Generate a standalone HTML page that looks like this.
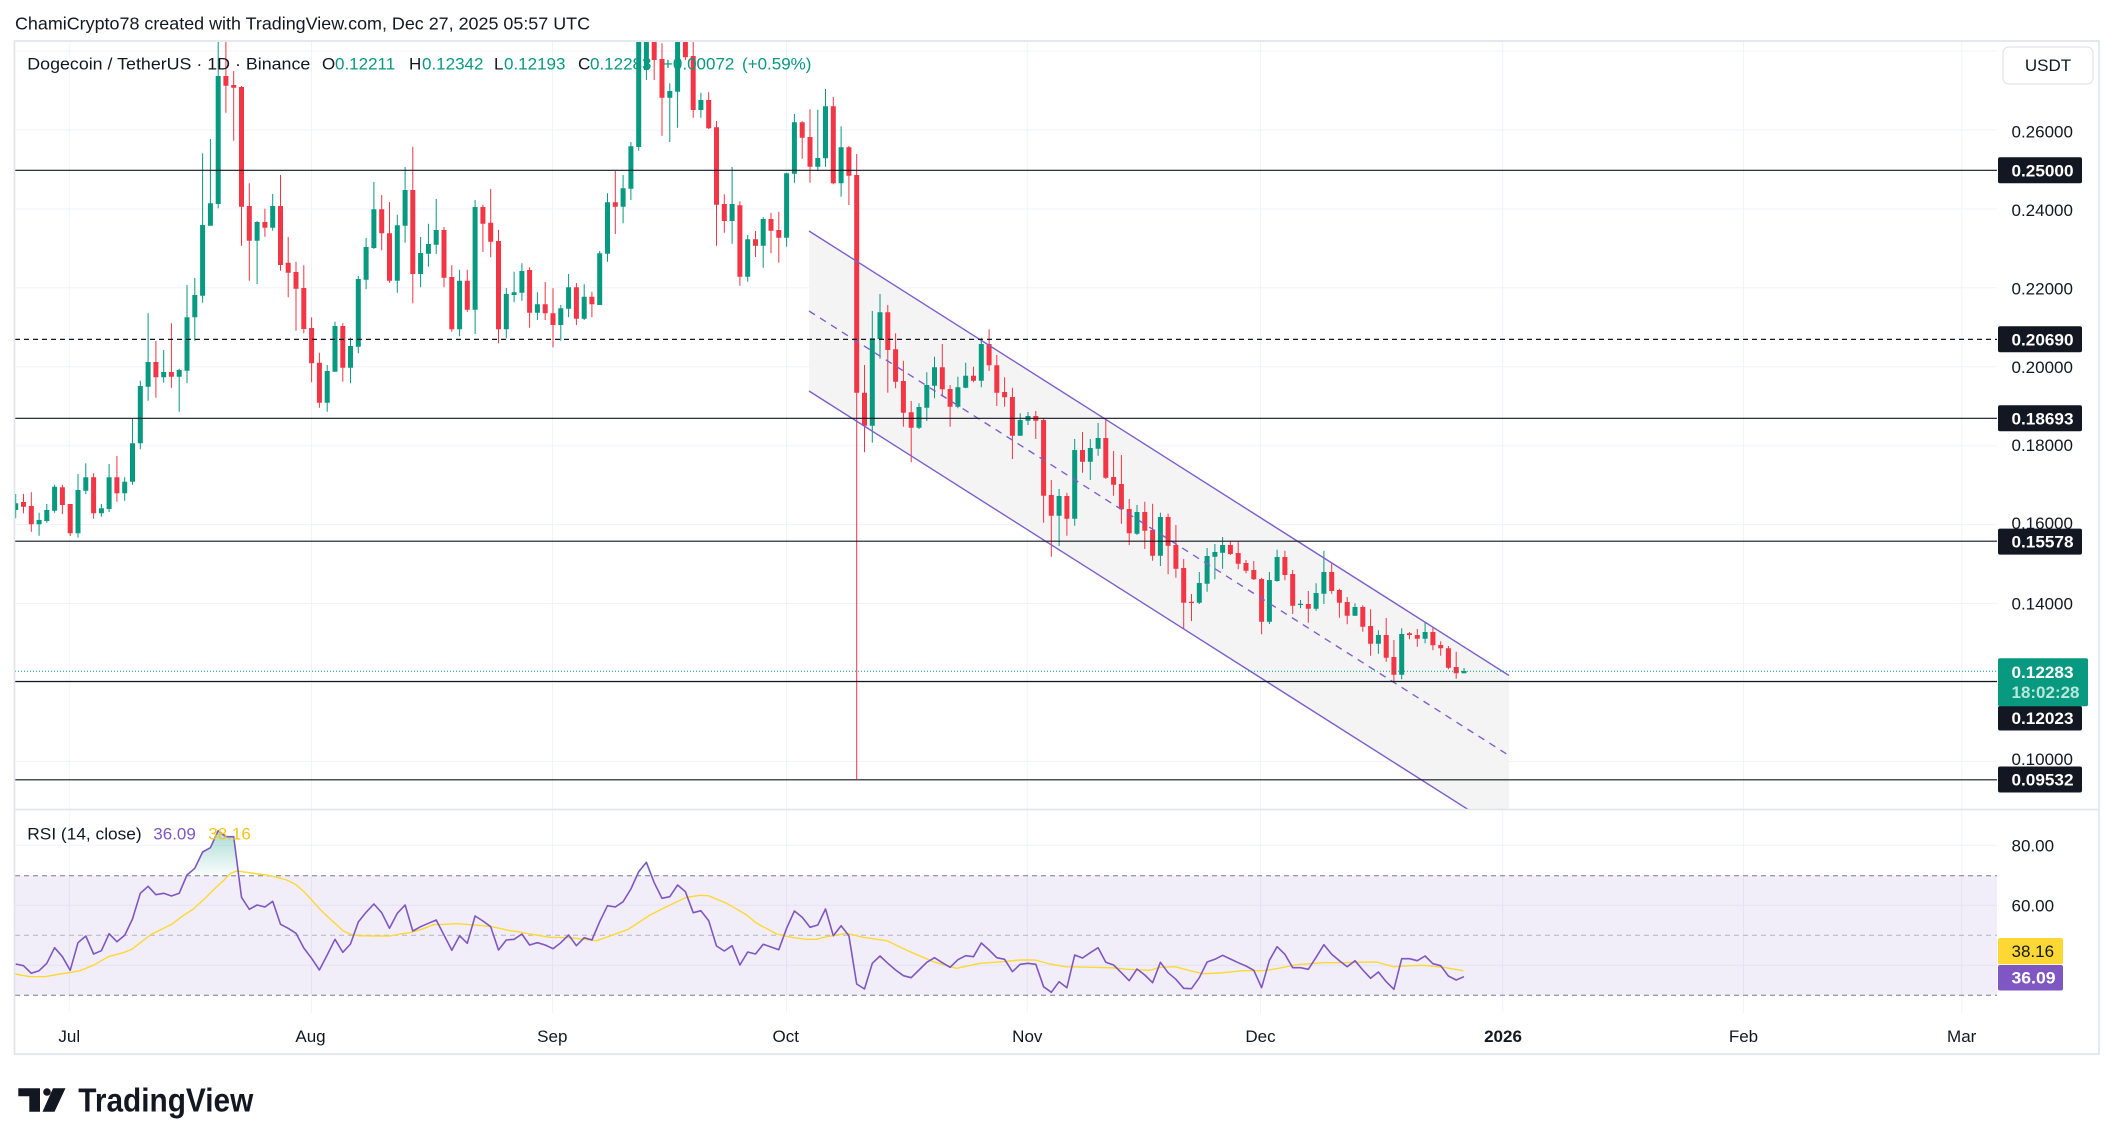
<!DOCTYPE html>
<html><head><meta charset="utf-8"><style>
html,body{margin:0;padding:0;background:#fff;}
svg{display:block;font-family:"Liberation Sans",Arial,sans-serif;}
</style></head><body>
<svg width="2114" height="1145" viewBox="0 0 2114 1145" xmlns="http://www.w3.org/2000/svg">
<defs>
<clipPath id="pp"><rect x="15" y="42" width="1982" height="767"/></clipPath>
<clipPath id="rp"><rect x="15" y="810" width="1982" height="203"/></clipPath>
<linearGradient id="ob" x1="0" y1="830" x2="0" y2="876" gradientUnits="userSpaceOnUse">
<stop offset="0" stop-color="#089981" stop-opacity="0.35"/><stop offset="1" stop-color="#089981" stop-opacity="0.02"/></linearGradient>
</defs>
<rect width="2114" height="1145" fill="#fff"/>
<text x="15" y="29.4" font-size="17.5" fill="#131722" textLength="575" lengthAdjust="spacingAndGlyphs">ChamiCrypto78 created with TradingView.com, Dec 27, 2025 05:57 UTC</text>

<!-- grid -->
<g stroke="#f0f3fa" stroke-width="1">
<path d="M15 51.1H1997M15 130H1997M15 209H1997M15 287.8H1997M15 366.8H1997M15 445.7H1997M15 524.6H1997M15 603.5H1997M15 682.4H1997M15 761.4H1997"/>
<path d="M15 845.3H1997M15 905.3H1997M15 965.3H1997"/>
<path d="M69.3 42V1013M311.5 42V1013M552.5 42V1013M786.5 42V1013M1027.3 42V1013M1260.5 42V1013M1502.7 42V1013M1743.5 42V1013M1961.7 42V1013"/>
</g>

<!-- price pane -->
<g clip-path="url(#pp)">
<polygon points="809,231 1509,675.5 1509,835.5 809,391" fill="#f4f4f4"/>
<path fill="none" stroke="#089981" stroke-width="1" d="M15.7 494V518.3M39.1 512.7V535.7M46.8 504V522.7M54.6 484.7V512.7M78 474V537.7M85.8 463.3V494M101.4 504V516.7M109.1 464V512M124.7 477.3V500.7M132.5 418.7V484.7M140.3 380.7V449.3M148.1 313.3V400.7M163.7 350V382.7M179.2 368.7V411.7M187 285V383.3M194.8 278V340.7M202.6 153.3V302.7M210.4 139V225.7M218.2 42V208.3M257.1 221V284M272.7 194V230.7M327.2 365V411.7M335 321.7V371.7M350.5 337.7V383.3M358.3 276V353.3M366.1 238V289.3M373.9 182V249M397.3 214.7V292.7M405.1 167V242.7M420.6 237V287.3M428.4 223.7V266.7M436.2 199V254M459.6 269.7V336.3M475.1 200V334M506.3 288V338.3M514.1 271.7V302.3M521.9 263.3V300.7M537.4 292.3V320M560.8 305V340.7M568.6 274V317.3M584.2 284.3V320M599.7 251V305M607.5 193.3V261.7M623.1 175V223.3M630.9 142V200M638.7 42V150.7M646.4 42V80M669.8 83.3V142M677.6 42V127.7M700.9 92.7V117.7M732.1 167V243.7M747.7 235V281.7M763.2 217.3V267.7M786.6 172.7V246.7M794.4 114V182.7M817.8 109.7V171M825.5 89V166.7M841.1 126.3V196.7M872.3 311V442.7M880 294V358.7M919 403.3V429M926.8 372.3V421M934.5 356.7V398.3M957.9 376.7V408.3M965.7 362.7V388.3M981.3 337.7V387.3M1020.2 413.3V435.7M1028 412V425M1059.1 489V546M1074.7 439V525.7M1090.3 439V480M1098.1 423V455.7M1137 505V535M1160.4 512.7V566M1199.3 572V604M1207.1 548V591.7M1214.9 544V579.3M1222.6 537V568.7M1269.4 572V624M1277.1 549.7V581.7M1300.5 600V608.3M1316.1 583.3V610.7M1323.9 550.7V604M1355 603.3V616M1378.4 630.3V653.7M1401.7 628.3V679.3M1425.1 621.7V643.3M1464 668V673.3"/>
<path fill="#089981" d="M13.2 503.3h5V510h-5zM36.6 520h5V524.3h-5zM44.3 510h5V521h-5zM52.1 486.7h5V510.7h-5zM75.5 490h5V533.3h-5zM83.3 477.3h5V490.7h-5zM98.9 508.3h5V513.3h-5zM106.6 477.3h5V509h-5zM122.2 481.7h5V493.3h-5zM130 443.3h5V481.7h-5zM137.8 386h5V443.3h-5zM145.6 362h5V386.7h-5zM161.2 372h5V377.3h-5zM176.7 370h5V376.7h-5zM184.5 317.3h5V370.7h-5zM192.3 295h5V317.3h-5zM200.1 225h5V295.7h-5zM207.9 203.3h5V225.7h-5zM215.7 76h5V204h-5zM254.6 222h5V240.7h-5zM270.2 206h5V227.7h-5zM324.7 371h5V402.7h-5zM332.5 326h5V371.7h-5zM348 346h5V367.7h-5zM355.8 279h5V346.7h-5zM363.6 247h5V279.7h-5zM371.4 209.3h5V248h-5zM394.8 225.3h5V280.7h-5zM402.6 190h5V225.7h-5zM418.1 253h5V274h-5zM425.9 244h5V253.7h-5zM433.7 230h5V244.7h-5zM457.1 280.7h5V329.3h-5zM472.6 207h5V309.7h-5zM503.8 294h5V329.3h-5zM511.6 292.3h5V295h-5zM519.4 271h5V292.7h-5zM534.9 304.3h5V312.7h-5zM558.3 308.3h5V325h-5zM566.1 287.3h5V308.7h-5zM581.7 296.7h5V318.7h-5zM597.2 253.3h5V305h-5zM605 202.3h5V253.7h-5zM620.6 188.3h5V206.7h-5zM628.4 146.3h5V188.7h-5zM636.2 42h5V147h-5zM643.9 42h5V70h-5zM667.3 91h5V97.7h-5zM675.1 42h5V91.7h-5zM698.4 100h5V110h-5zM729.6 204h5V221h-5zM745.2 239.3h5V276.7h-5zM760.7 219h5V245.7h-5zM784.1 173.3h5V237.7h-5zM791.9 122.3h5V173.7h-5zM815.3 158h5V166.7h-5zM823 106.3h5V158.3h-5zM838.6 147.3h5V183.3h-5zM869.8 338.3h5V425.7h-5zM877.5 312.3h5V339h-5zM916.5 407h5V427.7h-5zM924.3 385h5V407.7h-5zM932 367.3h5V385.7h-5zM955.4 387.3h5V406.7h-5zM963.2 375.7h5V387.7h-5zM978.8 344h5V380.7h-5zM1017.7 420h5V435.7h-5zM1025.5 416h5V420.7h-5zM1056.6 496h5V515.7h-5zM1072.2 450h5V518.7h-5zM1087.8 448h5V461.7h-5zM1095.6 438h5V448.7h-5zM1134.5 512h5V533.7h-5zM1157.9 517h5V555.7h-5zM1196.8 583h5V602.7h-5zM1204.6 556h5V583.7h-5zM1212.4 552h5V556.7h-5zM1220.1 545h5V552.7h-5zM1266.9 580h5V621.7h-5zM1274.6 557h5V581h-5zM1298 603.7h5V605h-5zM1313.6 593h5V608.7h-5zM1321.4 572h5V593.7h-5zM1352.5 607h5V615.7h-5zM1375.9 635h5V643.7h-5zM1399.2 634h5V674.7h-5zM1422.6 632h5V638.7h-5zM1461.5 671h5V673.3h-5z"/>
<path fill="none" stroke="#f23645" stroke-width="1" d="M23.5 494V513.3M31.3 492.3V531.7M62.4 484.7V514M70.2 504V536M93.6 473.3V518.7M116.9 456V501.7M155.9 341V397.7M171.4 323.3V387.7M225.9 41.7V112.7M233.7 71V140.7M241.5 86V245.7M249.3 183.3V280.7M264.9 208.7V236.7M280.5 175V270.7M288.2 237V297.3M296 261.7V330.7M303.8 265.3V333.3M311.6 317.3V382.3M319.4 352.7V407.7M342.8 323.3V381.7M381.7 195V250.3M389.5 202V282.7M412.8 146.7V303.3M444 227V287.3M451.8 265.3V331.7M467.3 269.7V311.7M482.9 204.7V252M490.7 189V257.3M498.5 230V343.3M529.6 267.3V327.7M545.2 282V320M553 288.3V347.3M576.4 283V325M591.9 291.7V317.3M615.3 171V234M654.2 42V80M662 43.3V135.7M685.4 42V60M693.2 41.7V117.7M708.7 92.3V129M716.5 121V245.7M724.3 194.3V232.7M739.9 201.3V285.7M755.5 231V257M771 213V253.3M778.8 211.7V262.7M802.2 121.3V158.7M810 109.3V182.7M833.3 97V184.3M848.9 146V205M856.7 154V779M864.5 365V452.3M887.8 305V392.7M895.6 333.3V388.3M903.4 360.7V426.7M911.2 401V462.3M942.3 344V396.7M950.1 385V426.7M973.5 366.7V382.3M989.1 329.3V371M996.8 355V406M1004.6 377.3V406.7M1012.4 387.7V459M1035.8 411V439M1043.6 418.3V522.7M1051.3 480V556.7M1066.9 492.7V535.7M1082.5 432V472.7M1105.8 419V479M1113.6 451V495.7M1121.4 455V523.7M1129.2 499V545M1144.8 501.7V549M1152.6 503.7V560.7M1168.1 513.7V574.3M1175.9 525V577.7M1183.7 559V629.3M1191.5 594V621M1230.4 541.7V555M1238.2 541.7V569.3M1246 560V573.3M1253.8 561V580M1261.6 577.7V634.3M1284.9 550.7V580.3M1292.7 570V614M1308.3 591V622.7M1331.7 563V593.7M1339.4 588.7V617.7M1347.2 597V624.3M1362.8 605.3V631.7M1370.6 609.3V655.7M1386.2 618V661.7M1393.9 640V681.7M1409.5 632V639.3M1417.3 629V646.7M1432.9 627.7V650.3M1440.7 641.3V655.7M1448.4 646V669.3M1456.2 651.7V678.7"/>
<path fill="#f23645" d="M21 502h5V506.7h-5zM28.8 506h5V524.3h-5zM59.9 487.3h5V505h-5zM67.7 504h5V533.3h-5zM91.1 477.3h5V513.3h-5zM114.4 477.3h5V493.3h-5zM153.4 362h5V377.3h-5zM168.9 372h5V376.7h-5zM223.4 76h5V85.7h-5zM231.2 85h5V87.7h-5zM239 87h5V206.7h-5zM246.8 206h5V240.7h-5zM262.4 222h5V227.7h-5zM278 206h5V265h-5zM285.7 262.7h5V272.7h-5zM293.5 272h5V288.7h-5zM301.3 288h5V329h-5zM309.1 328h5V363.3h-5zM316.9 362.7h5V402.7h-5zM340.3 326h5V367.7h-5zM379.2 209.3h5V233.3h-5zM387 233.3h5V280.7h-5zM410.3 190h5V274h-5zM441.5 230h5V277.7h-5zM449.3 277h5V329.3h-5zM464.8 280.7h5V309.7h-5zM480.4 207h5V223.7h-5zM488.2 222.7h5V241.7h-5zM496 241h5V329.3h-5zM527.1 270h5V312.7h-5zM542.7 304.3h5V313.3h-5zM550.5 313.3h5V325h-5zM573.9 287.3h5V318.7h-5zM589.4 296.7h5V304.3h-5zM612.8 202.3h5V206.7h-5zM651.7 42h5V60h-5zM659.5 59h5V97.7h-5zM682.9 42h5V57.3h-5zM690.7 56h5V110h-5zM706.2 100h5V128.3h-5zM714 127.3h5V204.7h-5zM721.8 204h5V221h-5zM737.4 205.3h5V276.7h-5zM753 239.3h5V245.7h-5zM768.5 219h5V230.7h-5zM776.3 230h5V237.7h-5zM799.7 122.3h5V137.7h-5zM807.5 137h5V166.7h-5zM830.8 106.3h5V183.3h-5zM846.4 147.3h5V175.7h-5zM854.2 175h5V392.7h-5zM862 392.7h5V425.7h-5zM885.3 312.3h5V350h-5zM893.1 349.3h5V381.7h-5zM900.9 381h5V412.7h-5zM908.7 412.3h5V427.7h-5zM939.8 367.3h5V389.3h-5zM947.6 389h5V406.7h-5zM971 375.7h5V380.7h-5zM986.6 344h5V365.3h-5zM994.3 365.3h5V392.7h-5zM1002.1 392h5V397.3h-5zM1009.9 397h5V435.7h-5zM1033.3 416h5V420.7h-5zM1041.1 420h5V495.7h-5zM1048.8 495h5V515.7h-5zM1064.4 496h5V518.7h-5zM1080 450h5V461.7h-5zM1103.3 438h5V477.7h-5zM1111.1 477h5V484.7h-5zM1118.9 484h5V509.3h-5zM1126.7 509h5V533.3h-5zM1142.3 512h5V530.7h-5zM1150.1 530h5V555.7h-5zM1165.6 517h5V545.7h-5zM1173.4 545h5V568.7h-5zM1181.2 568h5V602.7h-5zM1189 601.7h5V603h-5zM1227.9 545h5V554h-5zM1235.7 553h5V563.7h-5zM1243.5 563h5V570.7h-5zM1251.3 570h5V579.3h-5zM1259.1 579h5V621.7h-5zM1282.4 557h5V575h-5zM1290.2 574h5V605.7h-5zM1305.8 604h5V608.7h-5zM1329.2 572h5V591h-5zM1336.9 590h5V602.7h-5zM1344.7 602h5V615.7h-5zM1360.3 607h5V626.7h-5zM1368.1 626h5V643.7h-5zM1383.7 635h5V657.7h-5zM1391.4 657h5V674.7h-5zM1407 633.3h5V635h-5zM1414.8 635h5V638.7h-5zM1430.4 632h5V645.3h-5zM1438.2 645h5V648.3h-5zM1445.9 648.3h5V667.7h-5zM1453.7 667h5V673.3h-5z"/>
<g stroke="#7b5fd0" stroke-width="1.4" fill="none">
<path d="M809 231L1509 675.5M809 391L1509 835.5"/>
<path d="M809 311L1509 755.5" stroke-dasharray="7 6"/>
</g>
<g stroke="#131722" stroke-width="1.2" fill="none">
<path d="M15 170.3H1997M15 418.3H1997M15 541.2H1997M15 681.5H1997M15 779.8H1997"/>
<path d="M15 339.4H1997" stroke-dasharray="5 4"/>
</g>
<path d="M15 671.3H1997" stroke="#089981" stroke-width="1" stroke-dasharray="1 2" fill="none"/>
</g>

<!-- legend -->
<g font-size="17" fill="#131722">
<text x="27.3" y="69.5" textLength="283" lengthAdjust="spacingAndGlyphs">Dogecoin / TetherUS · 1D · Binance</text>
<text x="322" y="69.5">O</text><text x="335" y="69.5" fill="#089981">0.12211</text>
<text x="409" y="69.5">H</text><text x="422" y="69.5" fill="#089981">0.12342</text>
<text x="494" y="69.5">L</text><text x="504" y="69.5" fill="#089981">0.12193</text>
<text x="578" y="69.5">C</text><text x="590" y="69.5" fill="#089981">0.12283</text>
<text x="663" y="69.5" fill="#089981">+0.00072</text>
<text x="742" y="69.5" fill="#089981">(+0.59%)</text>
</g>

<!-- RSI pane -->
<rect x="15" y="875.7" width="1982" height="119.6" fill="rgba(126,87,194,0.1)"/>
<g fill="none" stroke-width="1">
<path d="M15 875.7H1997M15 995.3H1997" stroke="#787b86" stroke-dasharray="5 4"/>
<path d="M15 935.3H1997" stroke="#b2b5be" stroke-dasharray="5 4"/>
</g>
<g clip-path="url(#rp)">
<polygon points="187,875.7 194.8,868.3 202.6,852 210.4,847.7 218.2,830.7 225.9,836.7 233.7,836.7 238.7,875.7" fill="url(#ob)"/>
<polygon points="636.9,875.7 638.7,871.7 646.4,862.3 651.5,875.7" fill="url(#ob)"/>
<polyline fill="none" stroke="#fdd835" stroke-width="1.4" stroke-linejoin="round" points="15,974 30,976.7 45,976.7 60,974 69.3,972.7 80,970.7 93.3,965.3 108.3,956.7 123.3,952.7 131.7,949.3 141.7,941.7 151.7,934 161.7,929.3 171.7,924.3 181.7,916.7 193.3,909 203.3,900 213.3,890 223.3,880.7 230.7,873.3 236.7,871 246.7,872.3 258.3,874 268.3,875.3 278.3,877.7 286.7,880 295,884 303.3,891 311.7,900 320,909.3 328.3,917.3 335,923.3 343.3,931 350,934 358.3,935.7 376.7,936 390,936 400,934 410,932.7 421.7,929.3 433.3,924.7 443.3,924.3 456.7,923.7 470,924.7 483.3,925.7 496.7,927.7 510,930.7 520,932 530,934 550,937.3 570,937.7 596.7,940.7 610,936 628.3,929.3 650,915 670,905 686.7,897.3 700,895.3 708.3,895.7 726.7,903.3 746.7,915 756.7,923.3 776.7,934 793.3,937.7 806.7,939.3 816.7,939.3 826.7,936.7 846.7,933.3 863.3,937.3 886.7,940.7 910,951.7 933.3,961.7 956.7,968.3 980,963.3 1003.3,961.7 1019.3,960 1035,960 1050,964 1065,966.7 1093.3,967.3 1116.7,968 1126.7,969.3 1150,970.3 1160,967.3 1175,966.7 1190,970.7 1203.3,973.7 1220,973 1243.3,970.7 1263.3,970.7 1276.7,968.7 1296.7,964.7 1323.3,962.7 1343.3,962.7 1356.7,962.3 1376.7,962 1393.3,966.7 1410,965.7 1423.3,965.3 1443.3,967.3 1463.3,970.7"/>
<polyline fill="none" stroke="#7e57c2" stroke-width="1.6" stroke-linejoin="round" points="15.7,964 23.5,965.7 31.3,973.3 39.1,970.7 46.8,963.3 54.6,947.7 62.4,956.7 70.2,970.3 78,942.7 85.8,936 93.6,954 101.4,950.7 109.1,933.7 116.9,941.7 124.7,935.3 132.5,919 140.3,893.3 148.1,886.3 155.9,894.7 163.7,893.3 171.4,896 179.2,893.3 187,875 194.8,868.3 202.6,852 210.4,847.7 218.2,830.7 225.9,836.7 233.7,836.7 241.5,897.3 249.3,909.3 257.1,905 264.9,907 272.7,901.3 280.5,924.3 288.2,928.3 296,933.3 303.8,948 311.6,958.3 319.4,970 327.2,955 335,939.3 342.8,952.3 350.5,944 358.3,922 366.1,912.3 373.9,904 381.7,912.7 389.5,928.3 397.3,913.3 405.1,905 412.8,931 420.6,926.7 428.4,923.3 436.2,920 444,935 451.8,950.3 459.6,935.7 467.3,943.3 475.1,916 482.9,921 490.7,926.7 498.5,950 506.3,940 514.1,939.3 521.9,934 529.6,945 537.4,942.7 545.2,945 553,948.7 560.8,942.7 568.6,935 576.4,945.7 584.2,937.7 591.9,940 599.7,921.7 607.5,905.7 615.3,907 623.1,901.7 630.9,889 638.7,871.7 646.4,862.3 654.2,882.7 662,898.3 669.8,896.7 677.6,885 685.4,891.7 693.2,912.7 700.9,910.7 708.7,920.7 716.5,946 724.3,951 732.1,945.7 739.9,965 747.7,952 755.5,954 763.2,944.3 771,947 778.8,949.7 786.6,928.3 794.4,911 802.2,917.3 810,927.3 817.8,925 825.5,909 833.3,935.7 841.1,925.7 848.9,935.7 856.7,984 864.5,989 872.3,963.3 880,956 887.8,963.3 895.6,970 903.4,975.7 911.2,977.7 919,970 926.8,962.3 934.5,957.7 942.3,962.7 950.1,967.3 957.9,959.7 965.7,955.7 973.5,956.7 981.3,943 989.1,950 996.8,957.7 1004.6,959.3 1012.4,971.7 1020.2,964.3 1028,963.3 1035.8,964.3 1043.6,986.7 1051.3,992.3 1059.1,981.7 1066.9,987.7 1074.7,955 1082.5,958 1090.3,952.7 1098.1,947.7 1105.8,962.3 1113.6,965 1121.4,972.7 1129.2,980.7 1137,969 1144.8,975 1152.6,982.7 1160.4,962.3 1168.1,972.7 1175.9,979.3 1183.7,988.3 1191.5,988.7 1199.3,977.7 1207.1,962 1214.9,959.3 1222.6,955.3 1230.4,959 1238.2,962.7 1246,966 1253.8,970.3 1261.6,987.7 1269.4,960.3 1277.1,946.7 1284.9,954.3 1292.7,967.7 1300.5,967.7 1308.3,969.3 1316.1,957.3 1323.9,944.7 1331.7,954.3 1339.4,960.7 1347.2,966.7 1355,960.7 1362.8,970 1370.6,978.3 1378.4,972 1386.2,981.7 1393.9,989.3 1401.7,958.7 1409.5,958.7 1417.3,960.7 1425.1,956 1432.9,963.7 1440.7,965.7 1448.4,976 1456.2,980 1464,976.7"/>
</g>
<g font-size="17">
<text x="27.3" y="839.4" fill="#131722" textLength="114.4" lengthAdjust="spacingAndGlyphs">RSI (14, close)</text>
<text x="153.3" y="839.4" fill="#7e57c2">36.09</text>
<text x="208.3" y="839.4" fill="#f5c518">38.16</text>
</g>

<!-- pane separator & frame -->
<path d="M15 809.5H2099" stroke="#e0e3eb" stroke-width="1.5"/>
<rect x="14.5" y="41" width="2084.5" height="1013" fill="none" stroke="#e0e3eb" stroke-width="1.6"/>

<!-- price axis -->
<rect x="2003" y="47" width="90" height="37" rx="6" fill="#fff" stroke="#e0e3eb" stroke-width="1.2"/>
<text x="2048" y="71" font-size="17" fill="#131722" text-anchor="middle">USDT</text>
<g font-size="17" fill="#131722">
<text x="2011.5" y="137.7">0.26000</text>
<text x="2011.5" y="216">0.24000</text>
<text x="2011.5" y="294.3">0.22000</text>
<text x="2011.5" y="373">0.20000</text>
<text x="2011.5" y="451">0.18000</text>
<text x="2011.5" y="529">0.16000</text>
<text x="2011.5" y="609.6">0.14000</text>
<text x="2011.5" y="765">0.10000</text>
<text x="2011.5" y="851.7">80.00</text>
<text x="2011.5" y="911.4">60.00</text>
</g>
<g fill="#131722">
<rect x="1998" y="157.3" width="84" height="26" rx="2"/>
<rect x="1998" y="326.3" width="84" height="26" rx="2"/>
<rect x="1998" y="405.3" width="84" height="26" rx="2"/>
<rect x="1998" y="528.6" width="84" height="26" rx="2"/>
<rect x="1998" y="706" width="84" height="24.5" rx="2"/>
<rect x="1998" y="766.5" width="84" height="26" rx="2"/>
</g>
<rect x="1998" y="658.2" width="90" height="48" rx="2" fill="#089981"/>
<rect x="1998" y="938" width="65" height="26.3" rx="2" fill="#fdd835"/>
<rect x="1998" y="965" width="65" height="25.5" rx="2" fill="#7e57c2"/>
<g font-size="17" fill="#fff" font-weight="bold">
<text x="2011.5" y="176.3" textLength="62" lengthAdjust="spacingAndGlyphs">0.25000</text>
<text x="2011.5" y="345.3" textLength="62" lengthAdjust="spacingAndGlyphs">0.20690</text>
<text x="2011.5" y="424.3" textLength="62" lengthAdjust="spacingAndGlyphs">0.18693</text>
<text x="2011.5" y="547.6" textLength="62" lengthAdjust="spacingAndGlyphs">0.15578</text>
<text x="2011.5" y="677.8" textLength="62" lengthAdjust="spacingAndGlyphs">0.12283</text>
<text x="2011.5" y="697.8" fill="#b8e6dc" textLength="68" lengthAdjust="spacingAndGlyphs">18:02:28</text>
<text x="2011.5" y="724.2" textLength="62" lengthAdjust="spacingAndGlyphs">0.12023</text>
<text x="2011.5" y="785.5" textLength="62" lengthAdjust="spacingAndGlyphs">0.09532</text>
<text x="2011.5" y="983.5" textLength="44" lengthAdjust="spacingAndGlyphs">36.09</text>
</g>
<text x="2011.5" y="957" font-size="17" fill="#131722">38.16</text>

<!-- time axis -->
<g font-size="17" fill="#131722" text-anchor="middle">
<text x="69.3" y="1042">Jul</text>
<text x="310.5" y="1042">Aug</text>
<text x="552.3" y="1042">Sep</text>
<text x="785.7" y="1042">Oct</text>
<text x="1027.3" y="1042">Nov</text>
<text x="1260.5" y="1042">Dec</text>
<text x="1503" y="1042" font-weight="bold">2026</text>
<text x="1743.5" y="1042">Feb</text>
<text x="1961.7" y="1042">Mar</text>
</g>

<!-- logo -->
<g fill="#131722">
<path d="M18.3 1088.3H40V1111.7H29.3V1096.3H18.3Z"/>
<circle cx="47" cy="1092" r="3.8"/>
<polygon points="53,1088.3 65.5,1088.3 54.5,1111.7 42.5,1111.7"/>
<text x="78.3" y="1111.7" font-size="33" font-weight="bold" textLength="175" lengthAdjust="spacingAndGlyphs">TradingView</text>
</g>
</svg>
</body></html>
